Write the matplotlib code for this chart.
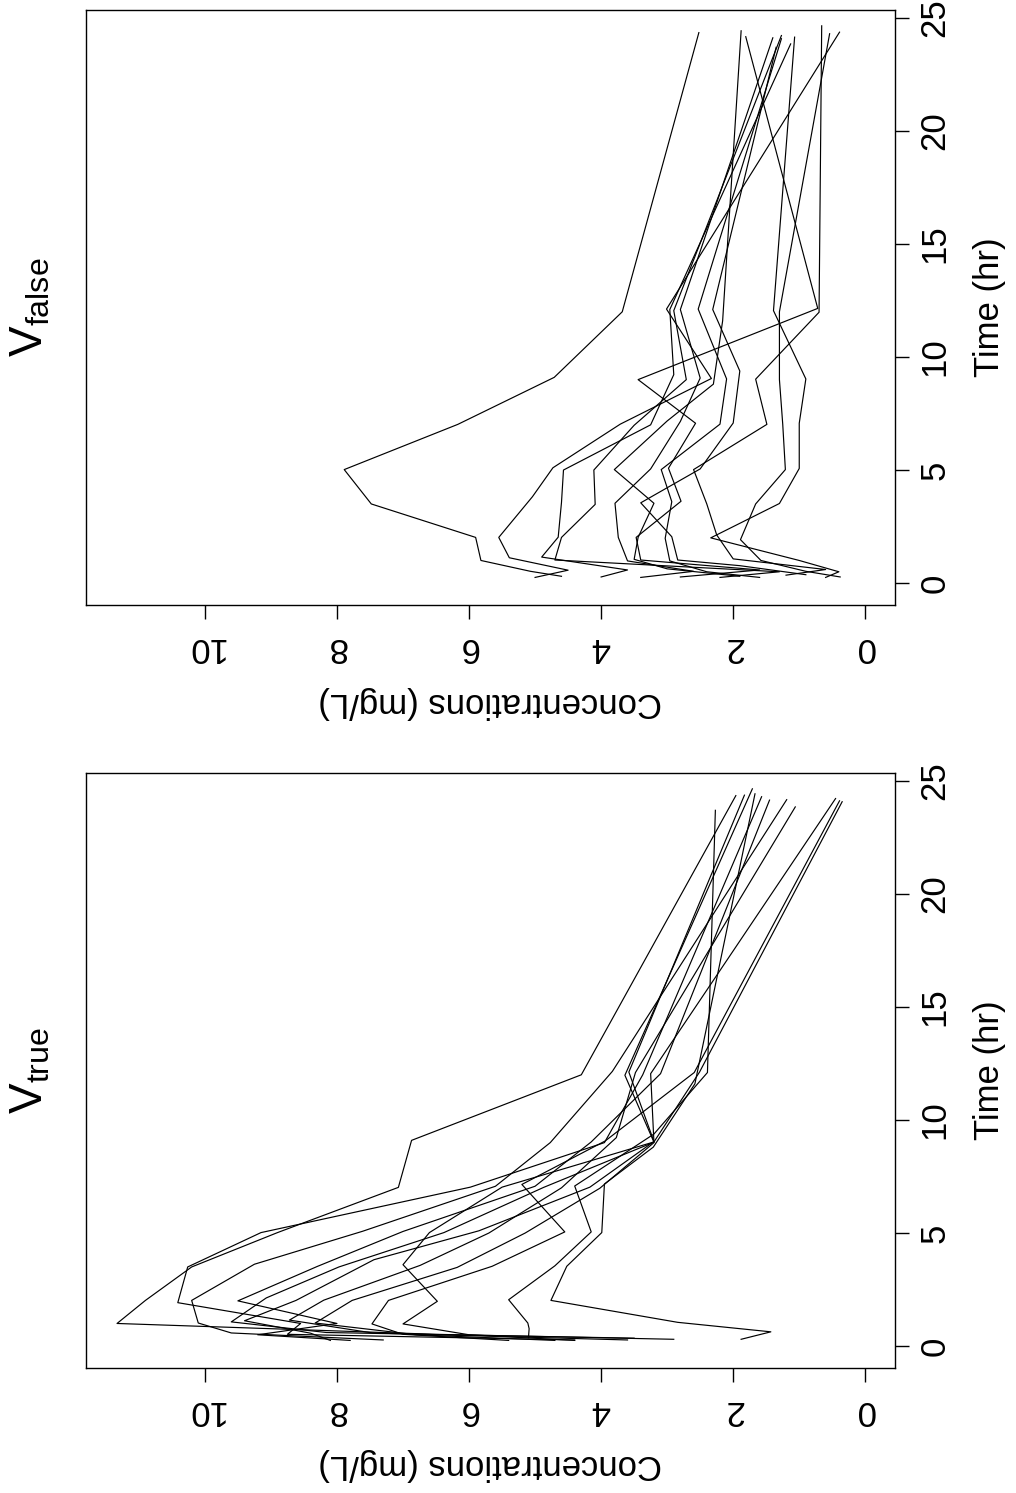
import numpy as np
import matplotlib
matplotlib.use('Agg')
import matplotlib.pyplot as plt

plt.rcParams['font.family'] = ['Liberation Sans', 'DejaVu Sans']
plt.rcParams['mathtext.fontset'] = 'custom'
plt.rcParams['mathtext.rm'] = 'Liberation Sans'

# sampling times per subject (hr)
times = [
    [0.30, 0.52, 1.00, 2.02, 3.50, 5.02, 7.02, 9.10, 12.00, 24.35],
    [0.27, 0.52, 1.00, 1.92, 3.50, 5.02, 7.03, 9.00, 12.00, 24.30],
    [0.27, 0.58, 1.02, 2.02, 3.62, 5.08, 7.07, 9.00, 12.15, 24.17],
    [0.35, 0.60, 1.07, 2.13, 3.50, 5.02, 7.02, 9.02, 11.98, 24.65],
    [0.25, 0.57, 1.12, 2.02, 3.82, 5.10, 7.03, 9.05, 12.12, 24.37],
    [0.27, 0.58, 1.15, 2.03, 3.57, 5.00, 7.00, 9.22, 12.10, 23.85],
    [0.25, 0.50, 1.02, 2.02, 3.48, 5.00, 6.98, 9.00, 12.05, 24.22],
    [0.25, 0.52, 0.98, 2.02, 3.53, 5.05, 7.15, 9.07, 12.10, 24.12],
    [0.25, 0.50, 0.98, 1.98, 3.60, 5.02, 7.03, 9.03, 12.12, 24.08],
    [0.37, 0.77, 1.02, 2.05, 3.55, 5.05, 7.08, 9.38, 12.10, 23.70],
    [0.30, 0.63, 1.05, 2.02, 3.53, 5.02, 7.17, 8.80, 11.60, 24.43],
    [0.25, 0.50, 1.00, 2.00, 3.52, 5.07, 7.07, 9.03, 12.05, 24.15],
]

# concentrations (mg/L), V true
conc_true = [
    [2.9, 6.5, 11.33, 10.9, 10.2, 8.9, 7.07, 6.87, 4.30, 1.96],
    [4.4, 8.75, 8.55, 10.41, 10.26, 9.15, 5.98, 3.95, 3.37, 1.57],
    [7.3, 9.6, 10.1, 10.2, 9.25, 7.61, 5.6, 4.77, 3.83, 1.19],
    [3.5, 8.16, 9.6, 9.07, 7.97, 6.38, 4.87, 3.2, 3.64, 1.71],
    [8.1, 8.4, 9.4, 8.62, 7.44, 5.85, 4.17, 3.2, 3.58, 1.83],
    [3.6, 7.46, 8.72, 8.2, 6.74, 5.70, 4.6, 3.77, 3.48, 1.06],
    [4.7, 6.8, 8.33, 7.77, 6.18, 5.15, 4.02, 3.2, 3.25, 0.45],
    [5.4, 7.0, 7.47, 7.22, 5.65, 4.55, 5.2, 3.94, 2.59, 0.39],
    [4.4, 6.0, 7.0, 6.48, 7.0, 6.6, 5.5, 3.2, 2.51, 0.35],
    [5.1, 5.09, 5.11, 5.40, 4.7, 4.15, 4.4, 3.2, 2.39, 2.27],
    [1.88, 1.43, 2.84, 4.76, 4.52, 3.99, 3.95, 3.21, 2.58, 1.67],
    [7.8, 9.2, 8.0, 9.5, 8.3, 7.0, 5.0, 4.15, 3.1, 1.45],
]

# concentrations (mg/L), V false
conc_false = [
    [4.6, 5.07, 5.82, 5.9, 7.48, 7.89, 6.17, 4.71, 3.68, 2.52],
    [0.38, 0.90, 1.58, 1.89, 1.66, 1.21, 1.25, 1.30, 1.30, 0.54],
    [2.8, 1.6, 3.4, 3.47, 2.79, 2.98, 2.57, 3.44, 0.72, 1.81],
    [1.2, 0.6, 2.0, 2.25, 2.4, 2.6, 1.49, 1.66, 0.70, 0.66],
    [5.0, 4.5, 5.39, 5.55, 5.04, 4.73, 3.71, 2.33, 3.01, 0.39],
    [4.0, 3.6, 4.9, 4.65, 4.6, 4.57, 3.25, 2.90, 2.96, 1.13],
    [2.2, 1.3, 4.7, 4.6, 4.09, 4.11, 3.5, 2.71, 2.9, 1.27],
    [3.4, 2.6, 3.6, 3.74, 3.79, 3.25, 2.8, 2.5, 2.80, 1.40],
    [1.6, 2.4, 2.96, 3.03, 2.93, 3.09, 2.2, 2.1, 2.53, 1.27],
    [0.9, 1.9, 2.84, 2.93, 3.4, 2.5, 2.0, 1.90, 2.31, 1.35],
    [1.9, 3.0, 3.5, 3.44, 3.2, 3.8, 3.0, 2.3, 2.16, 1.88],
    [0.6, 0.4, 1.0, 2.34, 1.3, 1.0, 1.0, 0.9, 1.39, 1.07],
]

time_ticks = [0, 5, 10, 15, 20, 25]
conc_ticks = [0, 2, 4, 6, 8, 10]

W, H = 1016, 1493
fig = plt.figure(figsize=(W / 100, H / 100), dpi=100)

FS = 25


def panel(box_bottom_px, conc, title):
    # plot is drawn already rotated: concentration runs right-to-left, time bottom-to-top
    ax = fig.add_axes([86 / W, (H - box_bottom_px) / H, (895 - 86) / W, 595 / H])
    for t, c in zip(times, conc):
        ax.plot(c, t, color='black', lw=0.85)
    ax.set_xlim(11.80, -0.45)
    ax.set_ylim(-0.97, 25.35)
    ax.yaxis.tick_right()
    ax.set_xticks(conc_ticks)
    ax.set_xticklabels([str(v) for v in conc_ticks], rotation=180, fontsize=FS)
    ax.set_yticks(time_ticks)
    ax.set_yticklabels([str(v) for v in time_ticks], rotation=90, fontsize=FS,
                       va='center')
    ax.tick_params(axis='x', length=10, width=1, pad=9, direction='out')
    ax.tick_params(axis='y', length=10, width=1, pad=7, direction='out')
    for s in ax.spines.values():
        s.set_linewidth(1.0)
    yc = (box_bottom_px - 297.5)
    fig.text(990 / W, 1 - yc / H, 'Time (hr)', rotation=90, fontsize=FS,
             ha='center', va='center')
    fig.text(490 / W, 1 - (box_bottom_px + 97) / H, 'Concentrations (mg/L)',
             rotation=180, fontsize=FS, ha='center', va='center')
    fig.text(30 / W, 1 - yc / H, title, rotation=90, fontsize=33,
             ha='center', va='center')
    return ax


panel(1368, conc_true, r'$\mathrm{V}_{\mathrm{true}}$')
panel(605, conc_false, r'$\mathrm{V}_{\mathrm{false}}$')

plt.savefig('out.png', dpi=100)
plt.close()
